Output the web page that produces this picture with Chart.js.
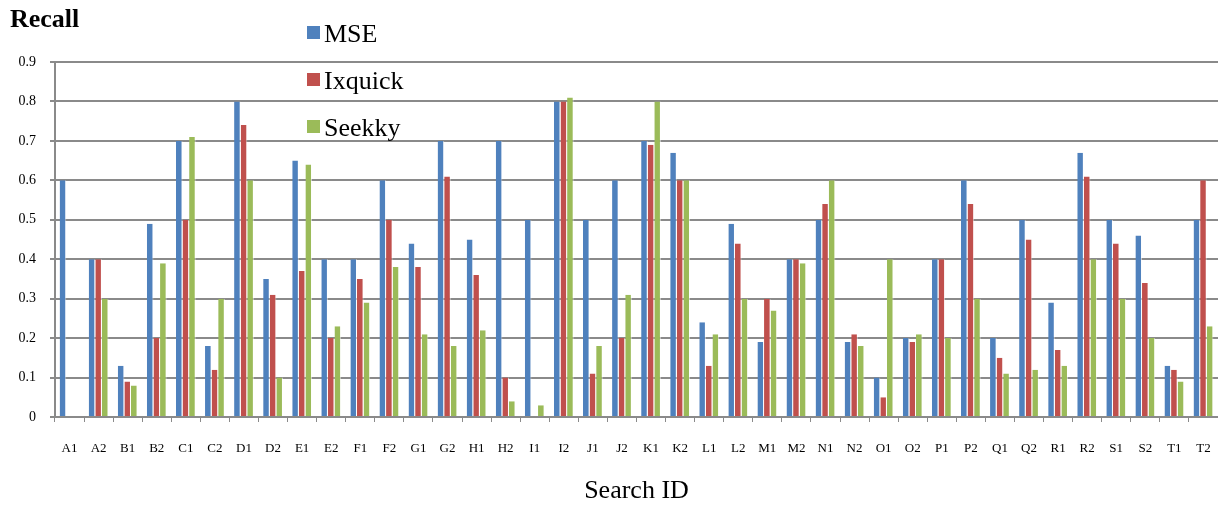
<!DOCTYPE html>
<html>
<head>
<meta charset="utf-8">
<script src="https://cdn.jsdelivr.net/npm/chart.js@4/dist/chart.umd.min.js"></script>
<style>
  html, body { margin: 0; padding: 0; background: #fff; }
  #wrap { width: 1218px; height: 507px; position: relative; }
</style>
</head>
<body>
<div id="wrap"><canvas id="c" width="1218" height="507"></canvas></div>
<script>
// Search IDs along the x axis
const searchIds = ['A1','A2','B1','B2','C1','C2','D1','D2','E1','E2','F1','F2','G1','G2','H1','H2','I1','I2','J1','J2',
                   'K1','K2','L1','L2','M1','M2','N1','N2','O1','O2','P1','P2','Q1','Q2','R1','R2','S1','S2','T1','T2'];

// Recall per search engine
const mse     = [0.60,0.40,0.13,0.49,0.70,0.18,0.80,0.35,0.65,0.40,0.40,0.60,0.44,0.70,0.45,0.70,0.50,0.80,0.50,0.60,
                 0.70,0.67,0.24,0.49,0.19,0.40,0.50,0.19,0.10,0.20,0.40,0.60,0.20,0.50,0.29,0.67,0.50,0.46,0.13,0.50];
const ixquick = [0.00,0.40,0.09,0.20,0.50,0.12,0.74,0.31,0.37,0.20,0.35,0.50,0.38,0.61,0.36,0.10,0.00,0.80,0.11,0.20,
                 0.69,0.60,0.13,0.44,0.30,0.40,0.54,0.21,0.05,0.19,0.40,0.54,0.15,0.45,0.17,0.61,0.44,0.34,0.12,0.60];
const seekky  = [0.00,0.30,0.08,0.39,0.71,0.30,0.60,0.10,0.64,0.23,0.29,0.38,0.21,0.18,0.22,0.04,0.03,0.81,0.18,0.31,
                 0.80,0.60,0.21,0.30,0.27,0.39,0.60,0.18,0.40,0.21,0.20,0.30,0.11,0.12,0.13,0.40,0.30,0.20,0.09,0.23];

const seriesNames = ['MSE', 'Ixquick', 'Seekky'];
const yTickValues = [0, 0.1, 0.2, 0.3, 0.4, 0.5, 0.6, 0.7, 0.8, 0.9];

const colors = ['#4F81BD', '#C0504D', '#9BBB59'];
const serif = '"Liberation Serif", "Times New Roman", serif';
const gridGray = '#8a8a8a';

// Title and stacked legend drawn on the canvas
const overlay = {
  id: 'overlay',
  afterDraw(chart) {
    const ctx = chart.ctx;
    ctx.save();
    ctx.fillStyle = '#000';
    ctx.textBaseline = 'alphabetic';
    ctx.font = 'bold 26px ' + serif;
    ctx.fillText('Recall', 10, 27);

    ctx.font = '26px ' + serif;
    chart.data.datasets.forEach((ds, i) => {
      const top = 26 + i * 47;
      ctx.fillStyle = ds.backgroundColor;
      ctx.fillRect(307, top, 13, 13);
      ctx.fillStyle = '#000';
      ctx.fillText(ds.label, 324, top + 16);
    });
    ctx.restore();
  }
};

new Chart(document.getElementById('c'), {
  type: 'bar',
  data: {
    labels: searchIds,
    datasets: [mse, ixquick, seekky].map((vals, i) => ({
      label: seriesNames[i],
      data: vals,
      backgroundColor: colors[i],
      borderColor: 'rgba(255,255,255,0.55)',
      borderWidth: { left: 0, top: 0, bottom: 0, right: 1 },
      categoryPercentage: 0.68,
      barPercentage: 1.0
    }))
  },
  options: {
    responsive: false,
    animation: false,
    devicePixelRatio: 1,
    layout: { padding: { top: 62, right: 0, left: 0, bottom: 0 } },
    plugins: {
      legend: { display: false },
      title: { display: false },
      tooltip: { enabled: false }
    },
    scales: {
      x: {
        grid: {
          display: true,
          drawOnChartArea: false,
          drawTicks: true,
          offset: true,
          tickLength: 5,
          color: gridGray,
          lineWidth: 1
        },
        border: { display: true, color: gridGray, width: 2 },
        ticks: {
          color: '#000',
          font: { family: serif, size: 13 },
          padding: 19,
          maxRotation: 0,
          autoSkip: false
        },
        title: {
          display: true,
          text: 'Search ID',
          color: '#000',
          font: { family: serif, size: 26 },
          padding: { top: 0, bottom: 0 }
        },
        afterFit(scale) {
          scale.height = 90;
          scale.paddingLeft = 0;
          scale.paddingRight = 0;
        }
      },
      y: {
        min: 0,
        max: 0.9,
        afterBuildTicks(scale) { scale.ticks = yTickValues.map(v => ({ value: v })); },
        grid: {
          color: gridGray,
          lineWidth: 2,
          tickLength: 5,
          drawTicks: true
        },
        border: { display: true, color: gridGray, width: 2 },
        ticks: {
          color: '#000',
          font: { family: serif, size: 14 },
          padding: 14,
          callback: v => (v === 0 ? '0' : v.toFixed(1))
        },
        afterFit(scale) {
          scale.width = 55;
          scale.paddingTop = 0;
          scale.paddingBottom = 0;
        }
      }
    }
  },
  plugins: [overlay]
});
</script>
</body>
</html>
